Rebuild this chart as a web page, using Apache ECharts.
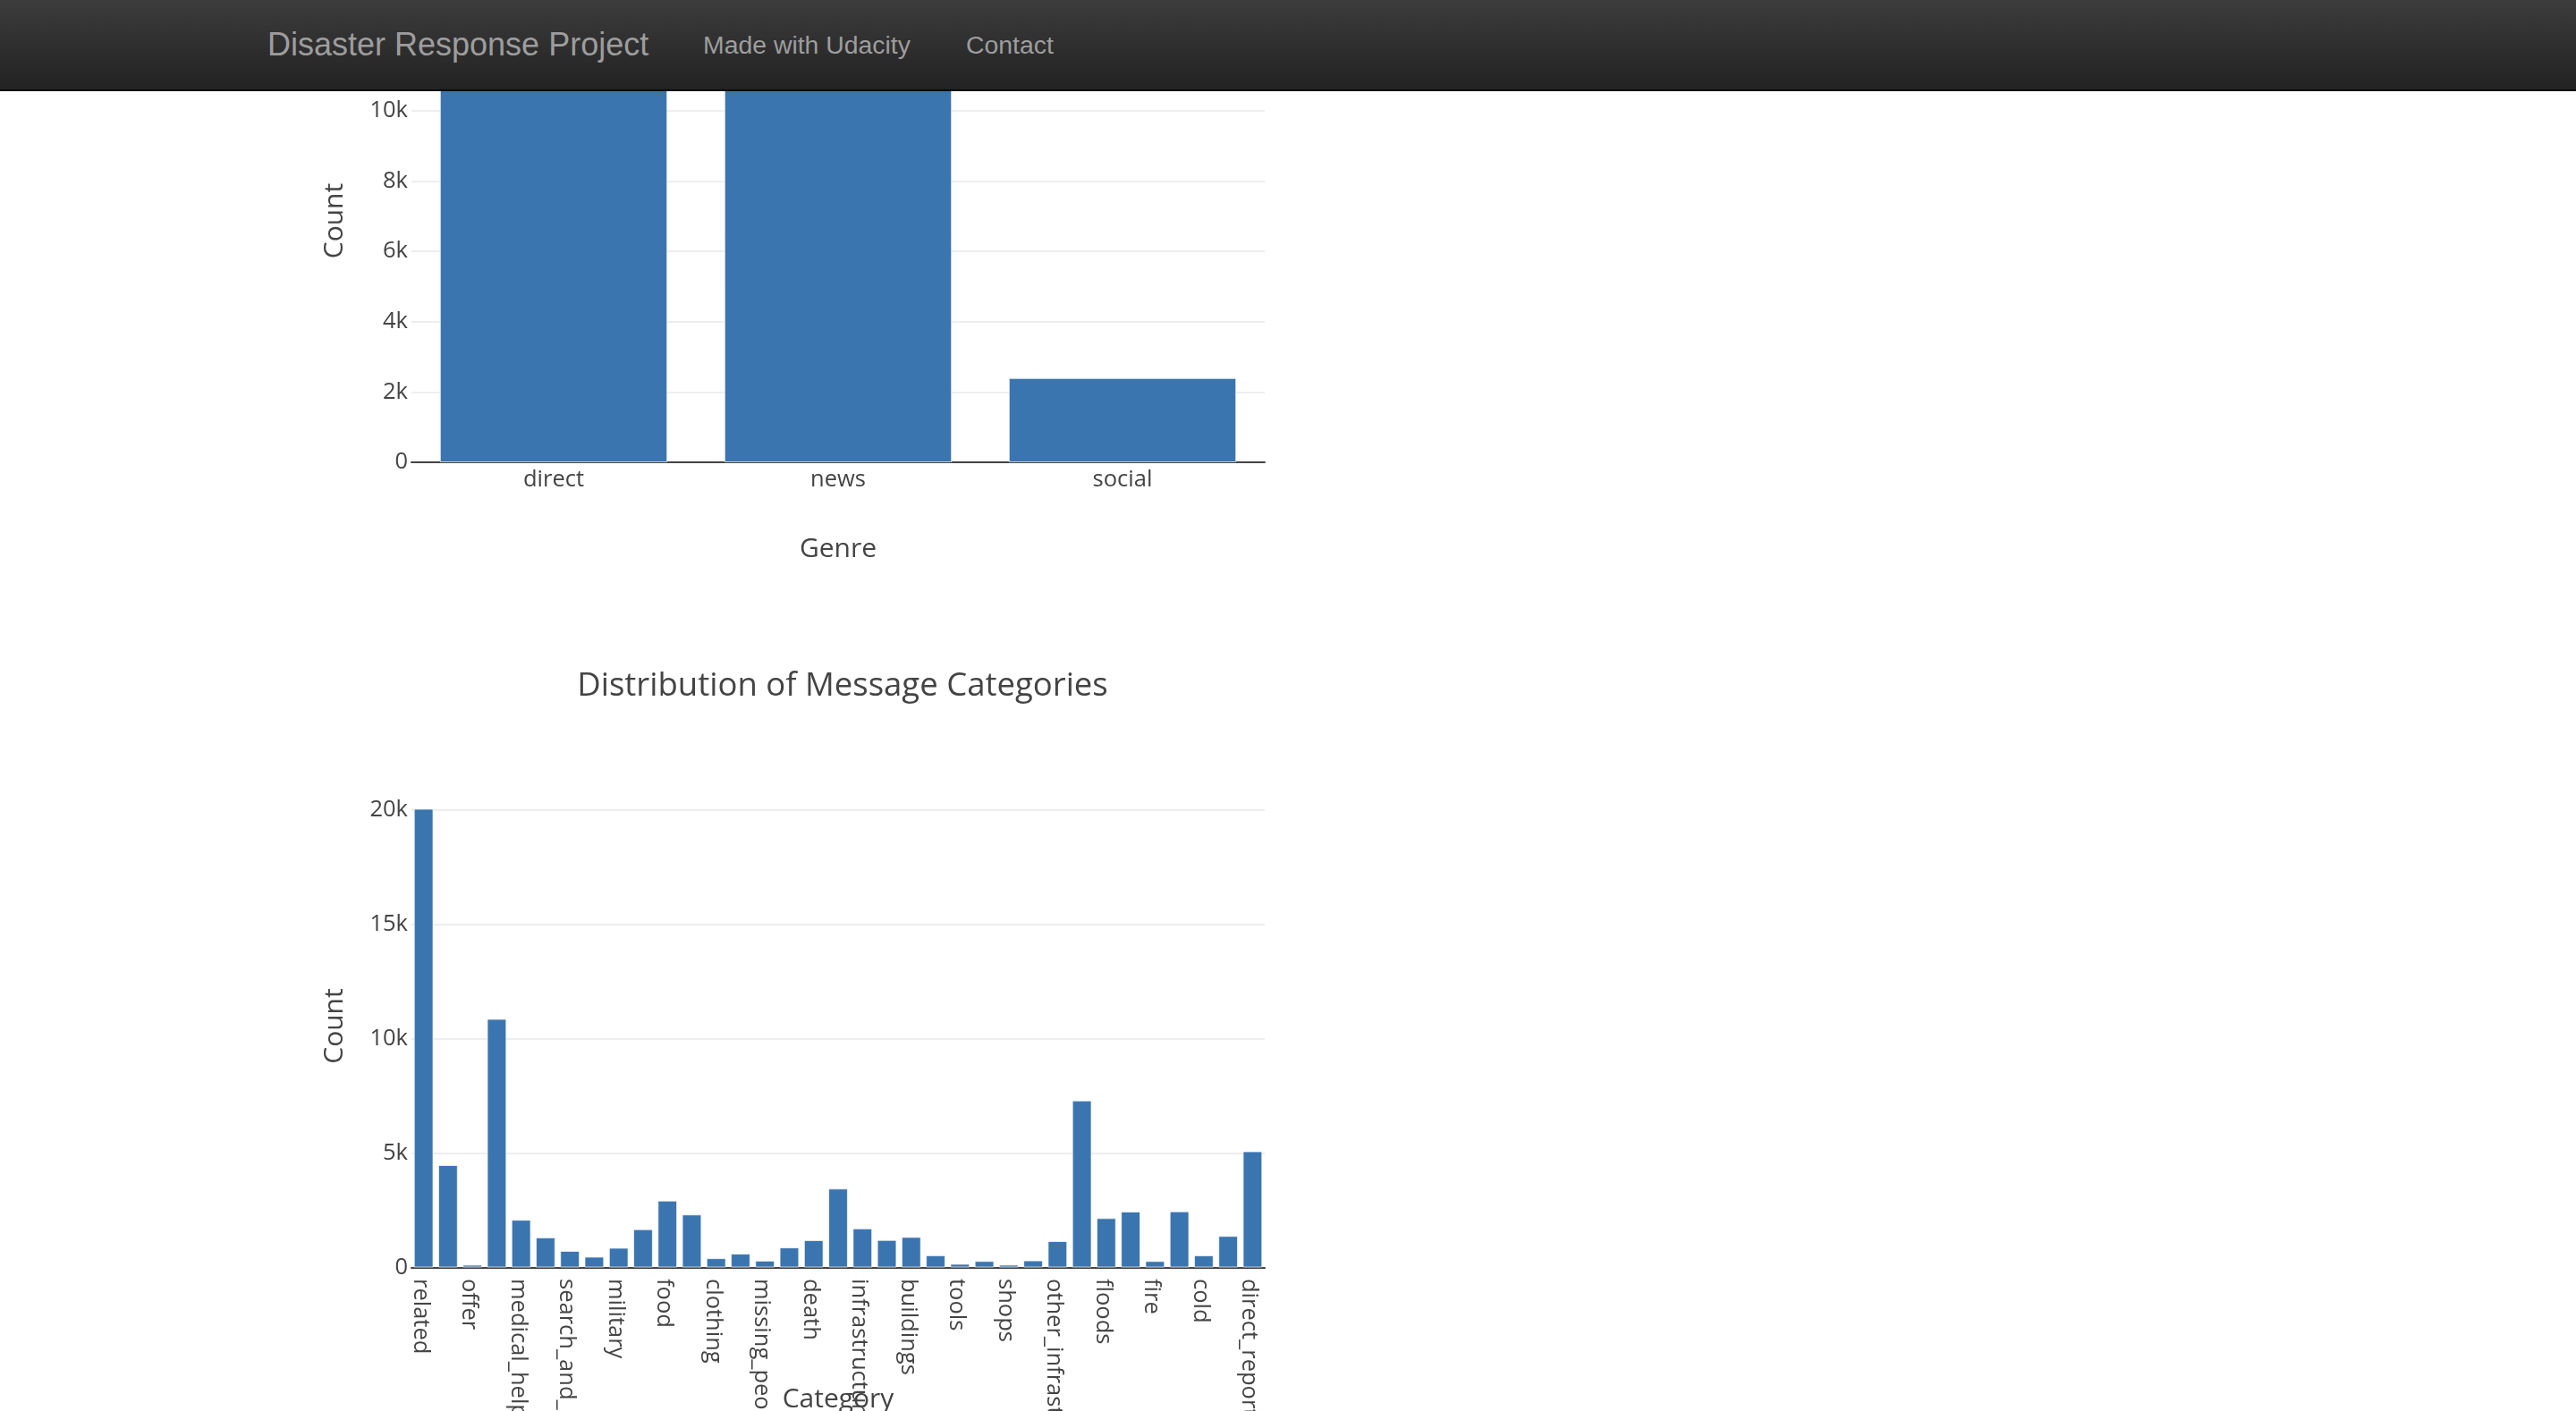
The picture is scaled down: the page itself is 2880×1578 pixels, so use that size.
<!DOCTYPE html>
<html>
<head>
<meta charset="utf-8">
<title>Disaster Response Project</title>
<script src="https://cdn.jsdelivr.net/npm/echarts@6/dist/echarts.min.js"></script>
<style>
html, body { margin: 0; padding: 0; width: 2880px; height: 1578px; overflow: hidden; background: #fff; }
#nav { position: absolute; left: 0; top: 0; width: 2880px; height: 100px; border-bottom: 2px solid #080808;
       background: linear-gradient(to bottom, #3c3c3c 0%, #222 100%); z-index: 10;
       font-family: "Liberation Sans", Arial, Helvetica, sans-serif; color: #9d9d9d; }
#nav span { position: absolute; top: 30px; line-height: 40px; white-space: nowrap; }
#brand { left: 299px; font-size: 36px; }
.link { font-size: 28.4px; }
#chart { position: absolute; left: 0; top: -100px; width: 2880px; height: 1678px; }
</style>
</head>
<body>
<div id="nav">
  <span id="brand">Disaster Response Project</span>
  <span class="link" style="left:786px">Made with Udacity</span>
  <span class="link" style="left:1080px">Contact</span>
</div>
<div id="chart"></div>
<script>
// ---- data ----
const genreNames = ['direct', 'news', 'social'];
const genreCounts = [10766, 13054, 2396];

const categoryNames = [
  'related', 'request', 'offer', 'aid_related', 'medical_help', 'medical_products',
  'search_and_rescue', 'security', 'military', 'water', 'food', 'shelter',
  'clothing', 'money', 'missing_people', 'refugees', 'death', 'other_aid',
  'infrastructure_related', 'transport', 'buildings', 'electricity', 'tools',
  'hospitals', 'shops', 'aid_centers', 'other_infrastructure', 'weather_related',
  'floods', 'storm', 'fire', 'earthquake', 'cold', 'other_weather', 'direct_report'
];
const categoryCounts = [
  20042, 4474, 118, 10860, 2084, 1313,
  724, 471, 860, 1672, 2923, 2314,
  405, 604, 298, 875, 1194, 3446,
  1705, 1201, 1333, 532, 159,
  283, 120, 309, 1151, 7297,
  2155, 2443, 282, 2455, 530, 1376, 5075
];

const genreTickStep = 2000;
const categoryTickStep = 5000;

// ---- chart ----
const FONT = '"Open Sans", verdana, arial, sans-serif';
const TXT = '#444';
const BAR = '#3b75af';
const kfmt = v => (v === 0 ? '0' : (v / 1000) + 'k');
const genreMax = Math.max(...genreCounts) / 0.95;
const catMax = Math.max(...categoryCounts) / 0.95;

function xAxisBase(gi, data, name, gap, labelOpts) {
  return {
    gridIndex: gi, type: 'category', data: data,
    axisLine: { lineStyle: { color: TXT, width: 2 } },
    axisTick: { show: false },
    splitLine: { show: false },
    axisLabel: Object.assign({ color: TXT, fontSize: 25.5, fontFamily: FONT }, labelOpts),
    name: name, nameLocation: 'middle', nameGap: gap, nameMoveOverlap: false,
    nameTextStyle: { color: TXT, fontSize: 30, fontFamily: FONT }
  };
}
function yAxisBase(gi, max, step) {
  return {
    gridIndex: gi, type: 'value', min: 0, max: max, interval: step,
    axisLine: { show: false }, axisTick: { show: false },
    splitLine: { show: true, showMaxLine: false, lineStyle: { color: '#eee', width: 2 } },
    axisLabel: { color: TXT, fontSize: 25.5, fontFamily: FONT, margin: 4, formatter: kfmt, showMaxLabel: false },
    name: 'Count', nameLocation: 'middle', nameGap: 71, nameMoveOverlap: false,
    nameTextStyle: { color: TXT, fontSize: 30, fontFamily: FONT }
  };
}
const barStyle = { color: BAR, borderColor: 'rgba(255,255,255,0.7)', borderWidth: 1 };

const chart = echarts.init(document.getElementById('chart'), null, { renderer: 'canvas' });
chart.setOption({
  animation: false,
  backgroundColor: '#fff',
  textStyle: { fontFamily: FONT },
  title: {
    text: 'Distribution of Message Categories',
    left: 937, top: 844, textAlign: 'center',
    textStyle: { fontFamily: FONT, fontSize: 36.5, fontWeight: 'normal', color: TXT }
  },
  grid: [
    { left: 460, width: 954, top: 77, height: 540, outerBoundsMode: 'none', containLabel: false },
    { left: 460, width: 954, top: 977.5, height: 540, outerBoundsMode: 'none', containLabel: false }
  ],
  xAxis: [
    xAxisBase(0, genreNames, 'Genre', 82, { interval: 0, margin: 6.5 }),
    xAxisBase(1, categoryNames, 'Category', 133, { interval: 1, rotate: -90, margin: 12.5, verticalAlign: 'top', lineHeight: 7.6 })
  ],
  yAxis: [
    yAxisBase(0, genreMax, genreTickStep),
    yAxisBase(1, catMax, categoryTickStep)
  ],
  series: [
    { type: 'bar', xAxisIndex: 0, yAxisIndex: 0, data: genreCounts, barCategoryGap: '20%', itemStyle: barStyle },
    { type: 'bar', xAxisIndex: 1, yAxisIndex: 1, data: categoryCounts, barCategoryGap: '20%', itemStyle: barStyle }
  ]
});
</script>
</body>
</html>
